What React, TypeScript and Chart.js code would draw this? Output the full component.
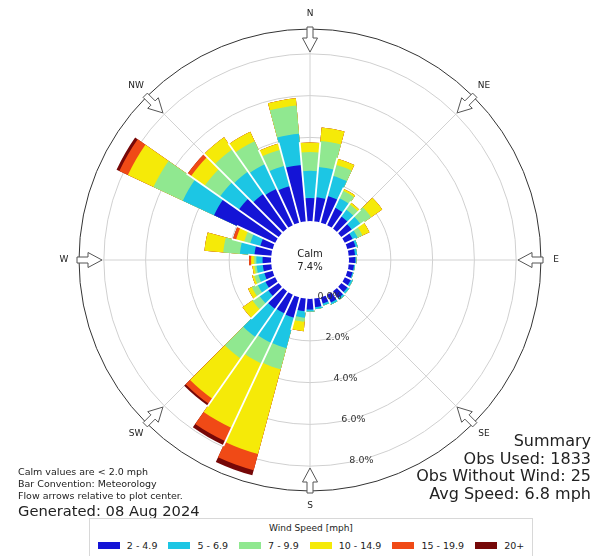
import React, { useEffect, useRef } from "react";
import { Chart, registerables } from "chart.js";

Chart.register(...registerables);

// ---- data (percent of observations), index i -> direction i*10 degrees ----
const directions = [0, 10, 20, 30, 40, 50, 60, 70, 80, 90, 100, 110, 120, 130, 140, 150, 160, 170,
  180, 190, 200, 210, 220, 230, 240, 250, 260, 270, 280, 290, 300, 310, 320, 330, 340, 350];

const speedLabels = ["2 - 4.9", "5 - 6.9", "7 - 9.9", "10 - 14.9", "15 - 19.9", "20+"];
const speedColors = ["#1414d6", "#1cc6e4", "#90e890", "#f5ea08", "#f04a16", "#760808"];

const bin2to5 = [1.1, 1.15, 1.3, 0.9, 0.7, 0.6, 0.4, 0.4, 0.3, 0.3, 0.25, 0.25, 0.3, 0.35, 0.4, 0.4, 0.3, 0.4,
  0.5, 0.6, 1.0, 0.96, 1.0, 0.6, 0.5, 0.4, 0.4, 0.4, 0.8, 0.6, 3.2, 2.3, 2.0, 1.9, 1.8, 2.7];
const bin5to7 = [1.3, 1.45, 1.0, 0.5, 0.4, 0.5, 0.25, 0.1, 0.1, 0.05, 0.05, 0.05, 0.1, 0.1, 0.1, 0.1, 0.1, 0.1,
  0.1, 0.3, 1.5, 1.55, 1.65, 0.5, 0.4, 0.3, 0.3, 0.3, 0.7, 0.5, 1.65, 1.1, 1.3, 1.3, 1.0, 1.5];
const bin7to10 = [0.9, 1.25, 0.55, 0.4, 0.3, 0.6, 0.25, 0, 0, 0, 0, 0, 0, 0, 0, 0, 0, 0,
  0, 0.2, 1.05, 1.1, 1.25, 0.4, 0.3, 0.2, 0.1, 0.1, 0.8, 0.3, 1.55, 0.9, 1.3, 1.2, 0.8, 1.35];
const bin10to15 = [0.45, 0.65, 0.3, 0.1, 0.1, 0.65, 0.37, 0, 0, 0, 0, 0, 0, 0, 0, 0, 0, 0,
  0, 0.45, 4.2, 3.4, 2.35, 0.57, 0.2, 0.1, 0.1, 0.15, 0.9, 0.4, 1.35, 0.8, 0.7, 0.5, 0.3, 0.35];
const bin15to20 = [0, 0, 0, 0, 0, 0, 0, 0, 0, 0, 0, 0, 0, 0, 0, 0, 0, 0,
  0, 0, 0.8, 0.7, 0.3, 0, 0, 0, 0, 0.1, 0, 0.15, 0.45, 0.2, 0, 0, 0, 0];
const bin20plus = [0, 0, 0, 0, 0, 0, 0, 0, 0, 0, 0, 0, 0, 0, 0, 0, 0, 0,
  0, 0, 0.25, 0.2, 0.1, 0, 0, 0, 0, 0, 0, 0, 0.15, 0, 0, 0, 0, 0];

const speedBins = [bin2to5, bin5to7, bin7to10, bin10to15, bin15to20, bin20plus];

const compassLabels = ["N", "NE", "E", "SE", "S", "SW", "W", "NW"];
const radialTicks = [0, 2, 4, 6, 8];
const calmLabel = "Calm";
const calmValue = "7.4%";

const notesLeft = ["Calm values are < 2.0 mph", "Bar Convention: Meteorology", "Flow arrows relative to plot center."];
const generatedText = "Generated: 08 Aug 2024";
const summaryLines = ["Summary", "Obs Used: 1833", "Obs Without Wind: 25", "Avg Speed: 6.8 mph"];
const legendTitle = "Wind Speed [mph]";

const FONT = "'DejaVu Sans', 'Liberation Sans', sans-serif";

const totals = directions.map((_, i) => speedBins.reduce((s, b) => s + b[i], 0));
const cumulative = speedBins.map((_, k) =>
  directions.map((_, i) => speedBins.slice(0, k + 1).reduce((s, b) => s + b[i], 0))
);

const deg = Math.PI / 180;

const windrosePlugin = {
  id: "windrose",
  beforeDatasetsDraw(chart: any) {
    const s = chart.scales.r;
    const ctx = chart.ctx;
    const cx = s.xCenter, cy = s.yCenter;
    const r0 = s.getDistanceFromCenterForValue(0);
    const R = s.drawingArea;
    ctx.save();
    ctx.strokeStyle = "#d2d2d2";
    ctx.lineWidth = 1;
    for (let k = 0; k < 8; k++) {
      const a = k * 45 * deg;
      ctx.beginPath();
      ctx.moveTo(cx + r0 * Math.sin(a), cy - r0 * Math.cos(a));
      ctx.lineTo(cx + R * Math.sin(a), cy - R * Math.cos(a));
      ctx.stroke();
    }
    ctx.restore();
  },
  afterDatasetsDraw(chart: any) {
    const s = chart.scales.r;
    const ctx = chart.ctx;
    const cx = s.xCenter, cy = s.yCenter;
    const r0 = s.getDistanceFromCenterForValue(0);
    const R = s.drawingArea;
    ctx.save();

    // white separators between neighbouring bars
    ctx.strokeStyle = "#ffffff";
    ctx.lineWidth = 1.8;
    const n = directions.length;
    for (let i = 0; i < n; i++) {
      const a = (directions[i] + 5) * deg;
      const t = Math.min(totals[i], totals[(i + 1) % n]);
      const rr = s.getDistanceFromCenterForValue(t) + 1;
      ctx.beginPath();
      ctx.moveTo(cx, cy);
      ctx.lineTo(cx + rr * Math.sin(a), cy - rr * Math.cos(a));
      ctx.stroke();
    }

    // calm circle
    ctx.beginPath();
    ctx.arc(cx, cy, r0, 0, Math.PI * 2);
    ctx.fillStyle = "#ffffff";
    ctx.fill();
    ctx.fillStyle = "#222";
    ctx.font = `10px ${FONT}`;
    ctx.textAlign = "center";
    ctx.textBaseline = "middle";
    ctx.fillText(calmLabel, cx, cy - 6);
    ctx.fillText(calmValue, cx, cy + 7);

    // outer circle
    ctx.beginPath();
    ctx.arc(cx, cy, R, 0, Math.PI * 2);
    ctx.strokeStyle = "#333";
    ctx.lineWidth = 1;
    ctx.stroke();

    // flow arrows + compass labels
    for (let k = 0; k < 8; k++) {
      const a = k * 45 * deg;
      const ux = Math.sin(a), uy = -Math.cos(a);
      const vx = -uy, vy = ux;
      const pt = (u: number, v: number) => [cx + u * ux + v * vx, cy + u * uy + v * vy];
      const poly = [
        pt(R + 2, -3), pt(R - 9, -3), pt(R - 9, -7.5), pt(R - 23, 0),
        pt(R - 9, 7.5), pt(R - 9, 3), pt(R + 2, 3),
      ];
      ctx.beginPath();
      poly.forEach((p, j) => (j === 0 ? ctx.moveTo(p[0], p[1]) : ctx.lineTo(p[0], p[1])));
      ctx.closePath();
      ctx.fillStyle = "#ffffff";
      ctx.fill();
      ctx.strokeStyle = "#555";
      ctx.lineWidth = 1;
      ctx.stroke();

      const lp = pt(R + 15, 0);
      ctx.fillStyle = "#222";
      ctx.font = `9px ${FONT}`;
      ctx.textAlign = "center";
      ctx.textBaseline = "middle";
      ctx.fillText(compassLabels[k], lp[0], lp[1]);
    }

    // radial tick labels
    ctx.font = `9.5px ${FONT}`;
    ctx.fillStyle = "#333";
    ctx.textAlign = "left";
    ctx.textBaseline = "middle";
    const la = 169 * deg;
    radialTicks.forEach((v) => {
      const rr = s.getDistanceFromCenterForValue(v);
      ctx.fillText(v.toFixed(1) + "%", cx + rr * Math.sin(la), cy - rr * Math.cos(la) - 2);
    });
    ctx.restore();
  },
};

export default function App() {
  const canvasRef = useRef<HTMLCanvasElement | null>(null);

  useEffect(() => {
    if (!canvasRef.current) return;
    const chart = new Chart(canvasRef.current, {
      type: "polarArea",
      data: {
        labels: directions.map((d) => `${d}°`),
        datasets: speedLabels.map((lab, k) => ({
          label: lab,
          data: cumulative[k],
          backgroundColor: speedColors[k],
          borderWidth: 0,
        })),
      },
      options: {
        responsive: false,
        animation: false,
        events: [],
        layout: { padding: { top: 29, bottom: 65, left: 79, right: 61 } },
        plugins: { legend: { display: false }, tooltip: { enabled: false } },
        scales: {
          r: {
            min: -1.87,
            max: 9.19,
            startAngle: -5,
            ticks: { display: false },
            afterBuildTicks: (scale: any) => {
              scale.ticks = radialTicks.map((v) => ({ value: v }));
            },
            grid: { color: "#d0d0d0", lineWidth: 1 },
            angleLines: { display: false },
            pointLabels: { display: false },
          },
        },
      } as any,
      plugins: [windrosePlugin],
    });
    return () => chart.destroy();
  }, []);

  return (
    <div style={{ position: "absolute", left: 0, top: 0, width: 602, height: 556, background: "#fff", fontFamily: FONT, overflow: "hidden" }}>
      <canvas ref={canvasRef} width={602} height={556} style={{ position: "absolute", left: 0, top: 0 }} />
      <div style={{ position: "absolute", left: 18, top: 466, fontSize: 9.5, lineHeight: "12px", color: "#222" }}>
        {notesLeft.map((t) => (
          <div key={t} style={{ whiteSpace: "nowrap" }}>{t}</div>
        ))}
        <div style={{ fontSize: 14.7, lineHeight: "17px", whiteSpace: "nowrap" }}>{generatedText}</div>
      </div>
      <div style={{ position: "absolute", right: 11, top: 432, fontSize: 16, lineHeight: "17.5px", color: "#222", textAlign: "right" }}>
        {summaryLines.map((t) => (
          <div key={t} style={{ whiteSpace: "nowrap" }}>{t}</div>
        ))}
      </div>
      <div style={{ position: "absolute", left: 89, top: 518, width: 444, height: 40, border: "1px solid #d8d8d8", boxSizing: "border-box", background: "#fff" }}>
        <div style={{ textAlign: "center", fontSize: 9, lineHeight: "11px", marginTop: 4, color: "#222" }}>{legendTitle}</div>
        <div style={{ display: "flex", justifyContent: "center", alignItems: "center", marginTop: 6, fontSize: 9.5, color: "#222" }}>
          {speedLabels.map((lab, k) => (
            <div key={lab} style={{ display: "flex", alignItems: "center", marginRight: k < speedLabels.length - 1 ? 11 : 0 }}>
              <span style={{ display: "inline-block", width: 22, height: 7, background: speedColors[k], marginRight: 7 }} />
              <span style={{ whiteSpace: "nowrap" }}>{lab}</span>
            </div>
          ))}
        </div>
      </div>
    </div>
  );
}
